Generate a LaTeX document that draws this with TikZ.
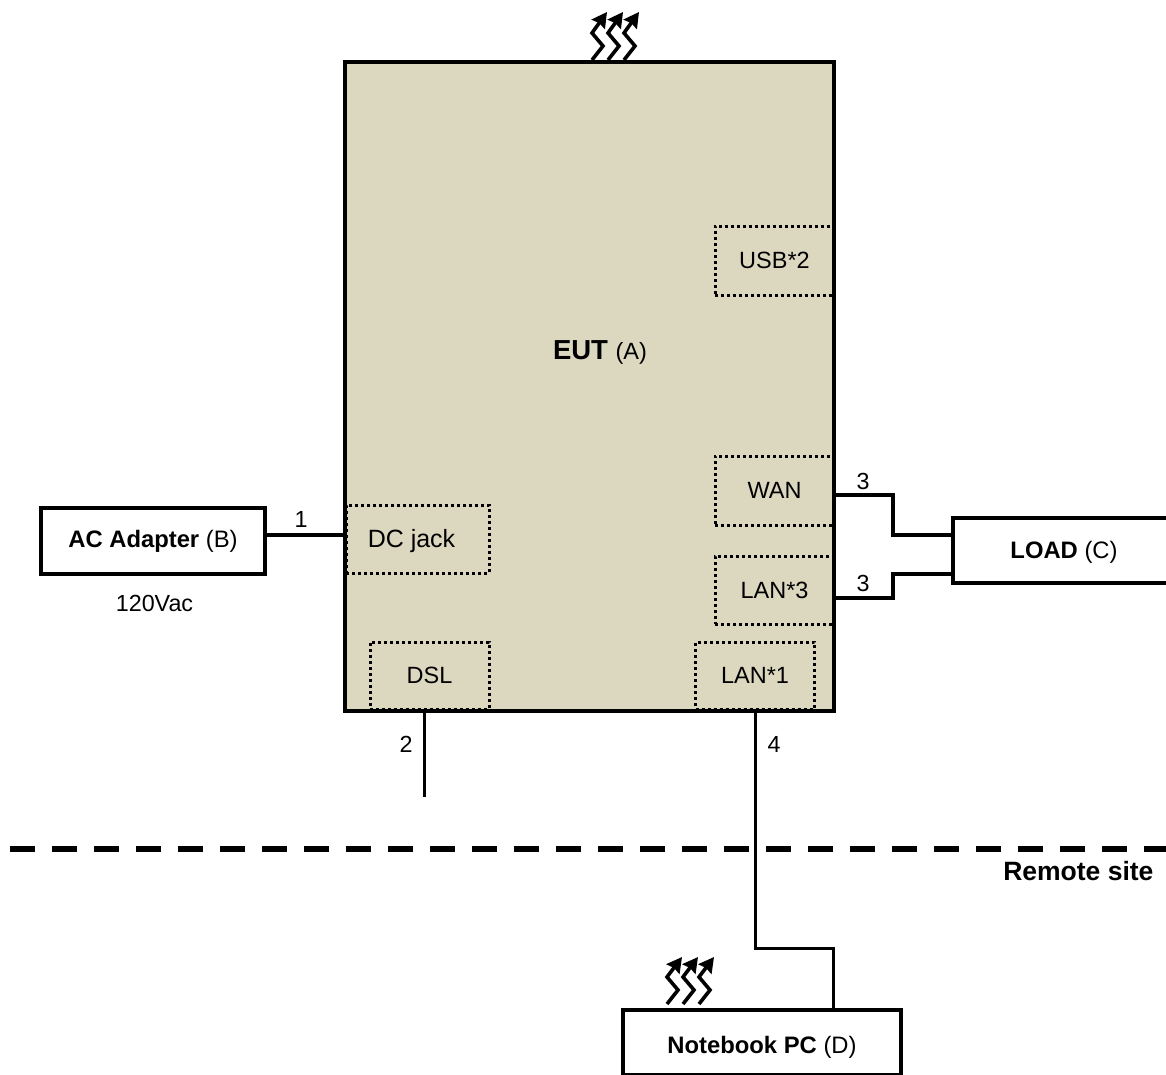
\documentclass[tikz,border=0pt]{standalone}
\usepackage{fontspec}
\setmainfont{Liberation Sans}
\usepackage{tikz}
\usetikzlibrary{
  arrows.meta,
  calc,
}
\definecolor{eutfill}{HTML}{DCD8C0}

\begin{document}
\begin{tikzpicture}[
  x=1pt, y=-1pt,
  >={Stealth[length=15pt,width=16pt,inset=1.5pt]},
  box/.style={draw, line width=4pt, fill=white, inner sep=0pt, outer sep=0pt, font=\fontsize{23.8}{27}\selectfont},
  port/.style={draw, line width=3pt, dash pattern=on 3pt off 3pt, inner sep=0pt, outer sep=0pt, font=\fontsize{23.5}{27}\selectfont},
  wire/.style={line width=3.5pt},
  thinwire/.style={line width=3pt},
  tag/.style={font=\fontsize{23.3}{27}\selectfont},
  boxtext/.style={font=\fontsize{23.8}{27}\selectfont},
  heat/.style={->, line width=3.6pt},
]
  \useasboundingbox (0,0) rectangle (1166,1074);
  \clip (0,0) rectangle (1166,1074);

  % EUT
  \node[box, fill=eutfill, minimum width=489pt, minimum height=649pt] (eut) at (589.5,386.5) {};
  \node (eutname) at (600,352) {\fontsize{27.5}{30}\selectfont\textbf{EUT} \fontsize{23.5}{27}\selectfont(A)};

  % Ports
  \node[port, minimum width=119pt, minimum height=69pt] (usb) at (774.5,260.5) {USB*2};
  \node[port, minimum width=119pt, minimum height=69pt] (wan) at (774.5,490.5) {WAN};
  \node[port, minimum width=119pt, minimum height=68pt] (lanthree) at (774.5,590) {LAN*3};
  \node[port, minimum width=119pt, minimum height=67pt] (lanone) at (755,675.5) {LAN*1};
  \node[port, minimum width=119pt, minimum height=67pt] (dsl) at (429.5,675.5) {DSL};
  \node[port, minimum width=143pt, minimum height=68pt] (jack) at (417.5,539) {};
  \node[font=\fontsize{25}{29}\selectfont] (jacktext) at (411.5,541) {DC jack};

  % Outside boxes
  \node[box, minimum width=224pt, minimum height=66pt] (adapter) at (153,541) {\textbf{AC Adapter} (B)};
  \node[box, minimum width=222pt, minimum height=65pt] (load) at (1064,550.5) {};
  \node[boxtext] (loadtext) at (1064,552.5) {\textbf{LOAD} (C)};
  \node[box, minimum width=278pt, minimum height=65pt] (pc) at (762,1042.5) {};
  \node[boxtext] (pctext) at (762,1047) {\textbf{Notebook PC} (D)};
  \node[tag] (volt) at (154.5,603) {120Vac};

  % Connectors
  \coordinate (dslend) at (424,797);
  \coordinate (pcdrop) at (755,948);
  \draw[wire] (adapter.east |- 0,535) -- (eut.west |- 0,535);
  \draw[wire] (eut.east |- 0,495) -- (893,495) -- (893,535) -- (load.west |- 0,535);
  \draw[wire] (eut.east |- 0,598) -- (893,598) -- (893,574) -- (load.west |- 0,574);
  \draw[thinwire] (dslend |- eut.south) -- (dslend);
  \draw[thinwire] (pcdrop |- eut.south) -- (pcdrop) -- (833,948) -- (833,1010);

  % Cable numbers
  \node[tag] (one) at (301,519) {1};
  \node[tag] (two) at (406,744) {2};
  \node[tag] (threea) at (863,481) {3};
  \node[tag] (threeb) at (863,583) {3};
  \node[tag] (four) at (774,744) {4};

  % Remote site line
  \coordinate (sitel) at (10,849);
  \coordinate (siter) at (1166,849);
  \draw[line width=6pt, dash pattern=on 24.5pt off 17.5pt] (sitel) -- (siter);
  \node[font=\fontsize{26.5}{30}\selectfont\bfseries, anchor=east] (site) at (1157,871) {Remote site};

  % Heat
  \foreach \xs in {592,608,624}
    \draw[heat] (\xs,60) -- ++(11,-14) -- ++(-11,-13) -- ++(15,-21);
  \foreach \xs in {667,683,699}
    \draw[heat] (\xs,1004) -- ++(11,-14) -- ++(-11,-13) -- ++(15,-20);
\end{tikzpicture}
\end{document}
